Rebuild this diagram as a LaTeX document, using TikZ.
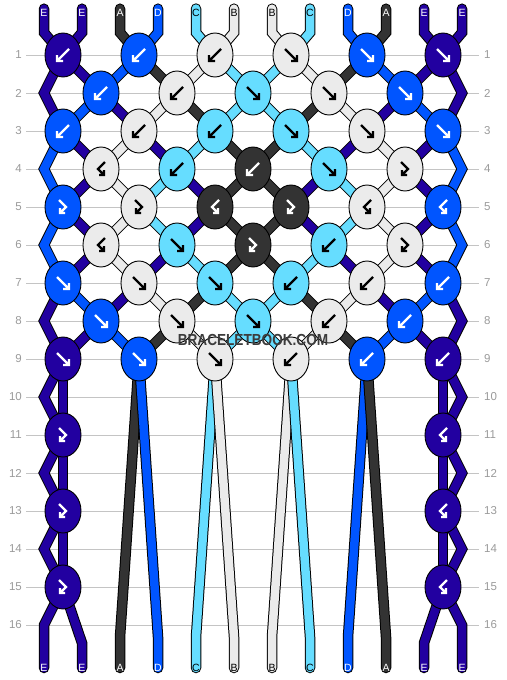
\documentclass[tikz,border=0pt]{standalone}
\usepackage{fontspec}
\setmainfont{Liberation Sans}
\usetikzlibrary{shapes.geometric}
\pgfdeclarelayer{background}
\pgfsetlayers{background,main}

% thread colours
\definecolor{cA}{HTML}{333333}
\definecolor{cB}{HTML}{EBEBEB}
\definecolor{cC}{HTML}{66DDFF}
\definecolor{cD}{HTML}{0055FF}
\definecolor{cE}{HTML}{2200A0}
% arrow colour on a knot of that thread
\colorlet{aA}{white}
\colorlet{aB}{black}
\colorlet{aC}{black}
\colorlet{aD}{white}
\colorlet{aE}{white}
\definecolor{gridgray}{HTML}{C4C4C4}
\definecolor{numgray}{HTML}{9A9A9A}
\definecolor{wmgray}{HTML}{3C3C3C}

\tikzset{
  knot/.style={ellipse, draw=black, line width=0.9pt, minimum width=36pt,
    minimum height=44pt, inner sep=0pt},
  strand/.style={draw=#1, line width=8.5pt, line cap=round, line join=miter,
    preaction={draw=black, line width=10.5pt, line cap=round, line join=miter}},
  gridline/.style={draw=gridgray, line width=0.9pt},
  letter/.style={font=\fontsize{10.5}{11}\selectfont, inner sep=0pt},
  rownum/.style={font=\fontsize{11.5}{12}\selectfont, text=numgray, inner sep=0pt},
  % knot symbols: forward, backward, forward-backward, backward-forward
  kf/.pic={\draw[line width=2.4pt, line join=miter] (-6,-6) -- (6,6) (6,0) -- (6,6) -- (0,6);},
  kb/.pic={\draw[line width=2.4pt, line join=miter] (6,-6) -- (-6,6) (-6,0) -- (-6,6) -- (0,6);},
  kfb/.pic={\draw[line width=2.4pt, line join=miter] (-4,-7) -- (3,0) -- (-3,6) (-3,1) -- (-3,6) -- (2,6);},
  kbf/.pic={\draw[line width=2.4pt, line join=miter] (4,-7) -- (-3,0) -- (3,6) (3,1) -- (3,6) -- (-2,6);}
}

\begin{document}
\begin{tikzpicture}[x=1pt,y=-1pt]
  \useasboundingbox (0,0) rectangle (506,680);

  % Knots of rows 1 to 9 (thread that makes the knot / knot type)
  \foreach \rw/\lst in {
      1/{E/b,D/b,B/b,B/f,D/f,E/f},
      2/{D/b,B/b,C/f,B/f,D/f},
      3/{D/b,B/b,C/b,C/f,B/f,D/f},
      4/{B/bf,C/b,A/b,C/f,B/fb},
      5/{D/fb,B/fb,A/bf,A/fb,B/bf,D/bf},
      6/{B/bf,C/f,A/fb,C/b,B/fb},
      7/{D/f,B/f,C/f,C/b,B/b,D/b},
      8/{D/f,B/f,C/f,B/b,D/b},
      9/{E/f,D/f,B/f,B/b,D/b,E/b}}{
    \foreach \ks/\kt [count=\c] in \lst {
      \pgfmathsetmacro\kx{63+38*mod(\rw+1,2)+76*(\c-1)}
      \pgfmathsetmacro\ky{55+38*(\rw-1)}
      \node[knot, fill=c\ks] (k-\rw-\c) at (\kx,\ky) {};
      \edef\tmp{\noexpand\pic[color=a\ks] at (k-\rw-\c) {k\kt};}\tmp
    }
  }

  % Edge knots further down
  \foreach \rw in {11,13,15}{
    \pgfmathsetmacro\ky{55+38*(\rw-1)}
    \node[knot, fill=cE] (k-\rw-1) at (63,\ky) {};
    \node[knot, fill=cE] (k-\rw-6) at (443,\ky) {};
    \pic[color=aE] at (k-\rw-1) {kfb};
    \pic[color=aE] at (k-\rw-6) {kbf};
  }

  % Thread letters at both ends
  \foreach \s/\tc [count=\i] in {E/white,E/white,A/white,D/white,C/black,B/black,
      B/black,C/black,D/white,A/white,E/white,E/white}{
    \pgfmathsetmacro\sx{44+38*(\i-1)}
    \node[letter, text=\tc] (top-\i) at (\sx,12.5) {\s};
    \node[letter, text=\tc] (bot-\i) at (\sx,668) {\s};
  }

  % Row numbers
  \foreach \rw in {1,...,16}{
    \pgfmathsetmacro\ry{55+38*(\rw-1)}
    \node[rownum, anchor=east] (nl-\rw) at (22,\ry) {\rw};
    \node[rownum, anchor=west] (nr-\rw) at (484,\ry) {\rw};
  }

  \node[font=\fontsize{16}{16}\selectfont\bfseries, text=wmgray, inner sep=0pt]
    (wm) at (253,340) {\scalebox{0.85}[1]{BRACELETBOOK.COM}};

  \begin{pgfonlayer}{background}
    % Row lines
    \foreach \rw in {1,...,16}
      \draw[gridline] ([xshift=4pt]nl-\rw.east) -- ([xshift=-5pt]nr-\rw.west);

    % Threads coming in at the top
    \foreach \s [count=\i] in {E,E,A,D,C,B,B,C,D,A,E,E}{
      \pgfmathtruncatemacro\kc{int((\i+1)/2)}
      \draw[strand=c\s] (top-\i.north) -- (top-\i |- k-1-1.north) -- (k-1-\kc.center);
    }

    % Threads between knots (to the lower left / to the lower right)
    \foreach \rw/\lft/\rgt in {
        1/{D,B,C,A,E}/{E,A,C,B,D},
        2/{D,B,C,A,E}/{E,A,C,B,D},
        3/{B,C,A,E,E}/{E,E,A,C,B},
        4/{E,C,A,E,B}/{B,E,A,C,E},
        5/{B,E,A,C,E}/{E,C,A,E,B},
        6/{E,E,A,C,B}/{B,C,A,E,E},
        7/{E,A,C,B,D}/{D,B,C,A,E},
        8/{E,A,C,B,D}/{D,B,C,A,E}}{
      \pgfmathtruncatemacro\nx{\rw+1}
      \pgfmathtruncatemacro\od{mod(\rw,2)}
      \foreach \s [count=\i] in \lft {
        \pgfmathtruncatemacro\fc{\i+\od}
        \draw[strand=c\s] (k-\rw-\fc.center) -- (k-\nx-\i.center);
      }
      \foreach \s [count=\i] in \rgt {
        \pgfmathtruncatemacro\tc{\i+1-\od}
        \draw[strand=c\s] (k-\rw-\i.center) -- (k-\nx-\tc.center);
      }
    }

    % Outer threads skipping a row
    \foreach \rw/\s in {1/E,3/D,5/D,7/E}{
      \pgfmathtruncatemacro\nx{\rw+2}
      \draw[strand=c\s] (k-\rw-1.center) -- ++(-19,38) -- (k-\nx-1.center);
      \draw[strand=c\s] (k-\rw-6.center) -- ++(19,38) -- (k-\nx-6.center);
    }
    \foreach \rw in {9,11,13}{
      \pgfmathtruncatemacro\nx{\rw+2}
      \draw[strand=cE] (k-\rw-1.center) -- ++(-19,38) -- (k-\nx-1.center);
      \draw[strand=cE] (k-\rw-1.center) -- (k-\nx-1.center);
      \draw[strand=cE] (k-\rw-6.center) -- ++(19,38) -- (k-\nx-6.center);
      \draw[strand=cE] (k-\rw-6.center) -- (k-\nx-6.center);
    }

    % Threads going out at the bottom
    \foreach \s/\i in {A/3,D/4,C/5,B/6,B/7,C/8,D/9,A/10}{
      \pgfmathtruncatemacro\kc{int((\i+1)/2)}
      \draw[strand=c\s] (bot-\i.center) -- ++(0,-31) -- (k-9-\kc.center);
    }
    \draw[strand=cE] (bot-1.center) -- ++(0,-43) -- (k-15-1.center);
    \draw[strand=cE] (bot-2.center) -- ++(0,-25) -- (k-15-1.center);
    \draw[strand=cE] (bot-11.center) -- ++(0,-25) -- (k-15-6.center);
    \draw[strand=cE] (bot-12.center) -- ++(0,-43) -- (k-15-6.center);
  \end{pgfonlayer}
\end{tikzpicture}
\end{document}
